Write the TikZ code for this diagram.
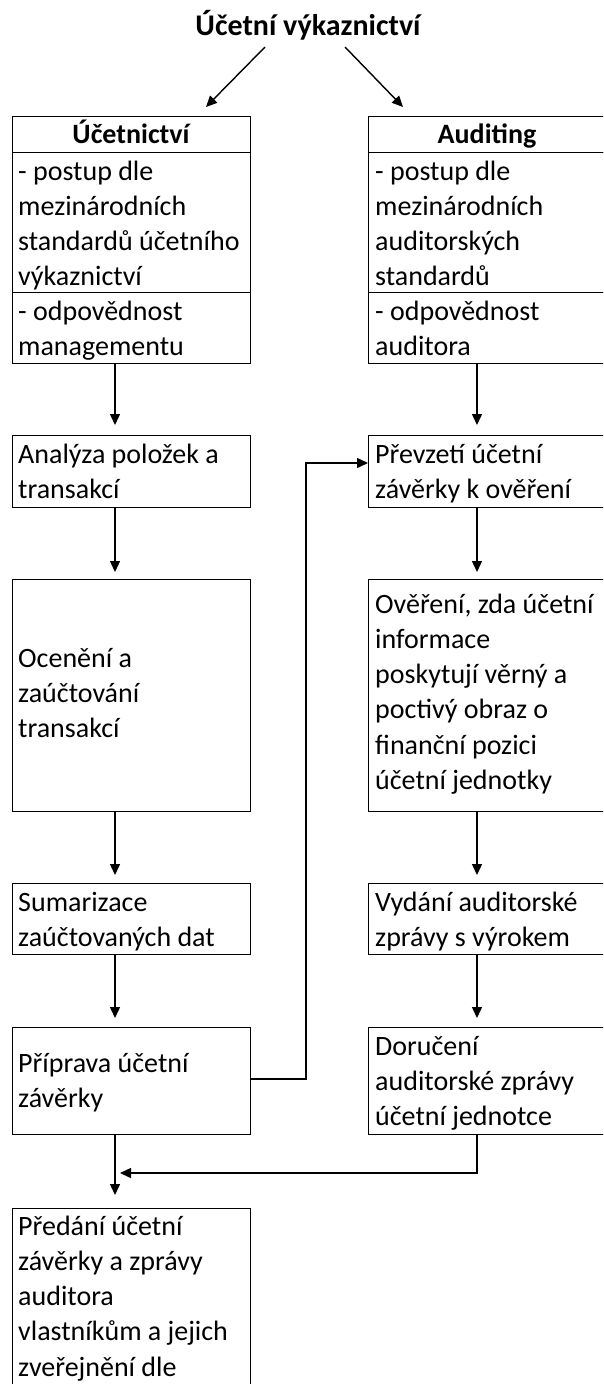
\documentclass[tikz,border=0pt]{standalone}
\usepackage{fontspec}
\setmainfont{Carlito}
\usetikzlibrary{arrows.meta,calc}
\begin{document}
\begin{tikzpicture}[x=1pt,y=-1pt,
  box/.style={draw, line width=1.4pt, rectangle, inner sep=0pt, anchor=north west},
  txt/.style={inner sep=0pt, anchor=base west, align=flush left, text width=250pt, font=\fontsize{28pt}{35.3pt}\selectfont},
  hdr/.style={inner sep=0pt, anchor=base, font=\bfseries\fontsize{28pt}{35pt}\selectfont},
  arr/.style={line width=1.4pt, -{Triangle[length=11pt,width=10pt]}}]
\useasboundingbox (0,0) rectangle (603,1384);
\clip (0,0) rectangle (603,1384);

% title
\node[hdr, font=\bfseries\fontsize{30pt}{36pt}\selectfont] (title) at (308,35) {Účetní výkaznictví};
\coordinate (a1s) at (265,47);
\coordinate (a1e) at (206,107);
\coordinate (a2s) at (345,47);
\coordinate (a2e) at (403,107);
\draw[arr] (a1s) -- (a1e);
\draw[arr] (a2s) -- (a2e);

% left header box
\node[box, minimum width=238pt, minimum height=36pt] (hL1) at (12,116) {};
\node[box, minimum width=238pt, minimum height=140pt] (hL2) at (12,152) {};
\node[box, minimum width=238pt, minimum height=71pt] (hL3) at (12,292) {};
\node[hdr] (hL1t) at (131,143) {Účetnictví};
\node[txt] (hL2t) at (18,180) {- postup dle\\mezinárodních\\standardů účetního\\výkaznictví};
\node[txt] (hL3t) at (18,320) {- odpovědnost\\managementu};

% right header box
\node[box, minimum width=240pt, minimum height=36pt] (hR1) at (368,116) {};
\node[box, minimum width=240pt, minimum height=140pt] (hR2) at (368,152) {};
\node[box, minimum width=240pt, minimum height=71pt] (hR3) at (368,292) {};
\node[hdr] (hR1t) at (487,143) {Auditing};
\node[txt] (hR2t) at (375,180) {- postup dle\\mezinárodních\\auditorských\\standardů};
\node[txt] (hR3t) at (375,320) {- odpovědnost\\auditora};

% left column
\node[box, minimum width=238pt, minimum height=72pt] (anL) at (12,435) {};
\node[txt] (anLt) at (18,463) {Analýza položek a\\transakcí};
\node[box, minimum width=238pt, minimum height=232pt] (ocL) at (12,579) {};
\node[txt] (ocLt) at (18,667) {Ocenění a\\zaúčtování\\transakcí};
\node[box, minimum width=238pt, minimum height=71pt] (sumL) at (12,883) {};
\node[txt] (sumLt) at (18,911) {Sumarizace\\zaúčtovaných dat};
\node[box, minimum width=238pt, minimum height=107pt] (pripL) at (12,1027) {};
\node[txt] (pripLt) at (18,1072) {Příprava účetní\\závěrky};
\node[box, minimum width=238pt, minimum height=200pt] (preB) at (12,1208) {};
\node[txt] (preBt) at (18,1235) {Předání účetní\\závěrky a zprávy\\auditora\\vlastníkům a jejich\\zveřejnění dle};

% right column
\node[box, minimum width=240pt, minimum height=72pt] (preR) at (368,435) {};
\node[txt] (preRt) at (375,463) {Převzetí účetní\\závěrky k ověření};
\node[box, minimum width=240pt, minimum height=232pt] (overR) at (368,579) {};
\node[txt] (overRt) at (375,613) {Ověření, zda účetní\\informace\\poskytují věrný a\\poctivý obraz o\\finanční pozici\\účetní jednotky};
\node[box, minimum width=240pt, minimum height=71pt] (vydR) at (368,883) {};
\node[txt] (vydRt) at (375,911) {Vydání auditorské\\zprávy s výrokem};
\node[box, minimum width=240pt, minimum height=107pt] (dorR) at (368,1027) {};
\node[txt] (dorRt) at (375,1055) {Doručení\\auditorské zprávy\\účetní jednotce};

% connectors
\coordinate (cl) at (115,0);
\coordinate (cr) at (477,0);
\coordinate (fb) at (306,0);
\coordinate (fy1) at (0,1079);
\coordinate (fy2) at (0,463);
\coordinate (by) at (0,1173);

\draw[arr, shorten >=10pt] (hL3.south -| cl) -- (anL.north -| cl);
\draw[arr, shorten >=7pt] (anL.south -| cl) -- (ocL.north -| cl);
\draw[arr, shorten >=8pt] (ocL.south -| cl) -- (sumL.north -| cl);
\draw[arr, shorten >=9pt] (sumL.south -| cl) -- (pripL.north -| cl);
\draw[arr, shorten >=13pt] (pripL.south -| cl) -- (preB.north -| cl);

\draw[arr, shorten >=10pt] (hR3.south -| cr) -- (preR.north -| cr);
\draw[arr, shorten >=7pt] (preR.south -| cr) -- (overR.north -| cr);
\draw[arr, shorten >=8pt] (overR.south -| cr) -- (vydR.north -| cr);
\draw[arr, shorten >=9pt] (vydR.south -| cr) -- (dorR.north -| cr);

\draw[arr] (pripL.east |- fy1) -| (fb |- fy2) -- (preR.west |- fy2);
\draw[arr, shorten >=5pt] (dorR.south -| cr) |- (cl |- by);
\end{tikzpicture}
\end{document}
